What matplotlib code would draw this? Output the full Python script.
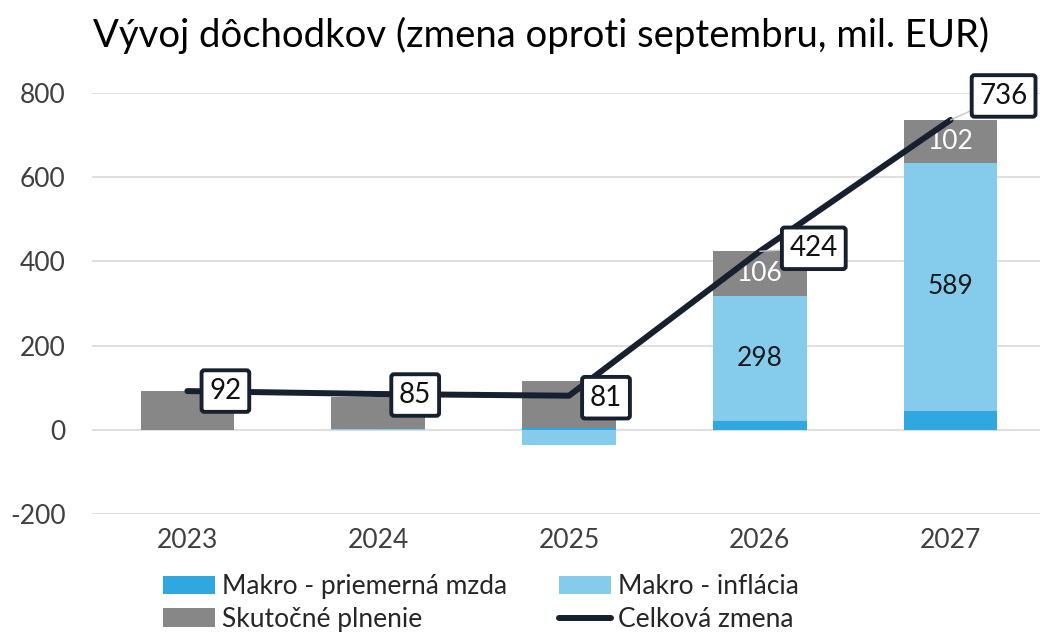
import numpy as np
import matplotlib.pyplot as plt

# data (mil. EUR, change vs September)
years = ['2023', '2024', '2025', '2026', '2027']
mzda = [0, 0, 5, 20, 45]            # Makro - priemerná mzda
inflacia = [0, 2, -37, 298, 589]    # Makro - inflácia
skutocne = [92, 76, 110, 106, 102]  # Skutočné plnenie
celkova = [92, 85, 81, 424, 736]    # Celková zmena
show_seg_labels = [False, False, False, True, True]

C_MZDA = '#2EA8DF'
C_INFL = '#85CCEC'
C_SKUT = '#878787'
C_LINE = '#16202F'

plt.rcParams['font.family'] = ['Lato', 'DejaVu Sans']
plt.rcParams['axes.unicode_minus'] = False

fig = plt.figure(figsize=(10.4, 6.35), dpi=100)
ax = fig.add_axes([92 / 1040, (635 - 514) / 635, 954 / 1040, 421 / 635])

x = np.arange(len(years))
w = 0.49

# stack positives up, negatives down
pos = np.zeros(len(years))
neg = np.zeros(len(years))
seg_pos = {}
for name, vals, col in [('Makro - priemerná mzda', mzda, C_MZDA),
                        ('Makro - inflácia', inflacia, C_INFL),
                        ('Skutočné plnenie', skutocne, C_SKUT)]:
    vals = np.array(vals, dtype=float)
    bottom = np.where(vals >= 0, pos, neg)
    ax.bar(x, vals, w, bottom=bottom, color=col, label=name, zorder=2)
    seg_pos[name] = bottom + vals / 2
    pos = np.where(vals >= 0, pos + vals, pos)
    neg = np.where(vals < 0, neg + vals, neg)

# labels inside segments
for i in range(len(years)):
    if not show_seg_labels[i]:
        continue
    ax.text(x[i], seg_pos['Makro - inflácia'][i], str(inflacia[i]), ha='center', va='center',
            fontsize=19, color='#1a1a1a', zorder=3)
    ax.text(x[i], seg_pos['Skutočné plnenie'][i], str(skutocne[i]), ha='center', va='center',
            fontsize=19, color='white', zorder=3)

# total line
ax.plot(x, celkova, color=C_LINE, lw=4.3, solid_capstyle='round', zorder=4, label='Celková zmena')

# boxed labels for the line
offsets = [(38, 0), (37, -1), (37, -2), (54, 3), (53, 24)]
for i, v in enumerate(celkova):
    dx, dy = offsets[i]
    arrow = None
    if i >= 3:
        arrow = dict(arrowstyle='-', color='#c8c8c8', lw=1, shrinkA=0, shrinkB=0)
    ax.annotate(str(v), (x[i], v), xytext=(dx, dy), textcoords='offset pixels',
                ha='center', va='center', fontsize=20, color='#111111', zorder=5,
                bbox=dict(boxstyle='round,pad=0.28,rounding_size=0.1', fc='white',
                          ec=C_LINE, lw=2.8),
                arrowprops=arrow)

ax.set_xlim(-0.5, 4.5)
ax.set_ylim(-200, 800)
ax.set_yticks(range(-200, 801, 200))
ax.set_xticks(x)
ax.set_xticklabels(years)
ax.tick_params(length=0, labelsize=19, colors='#404040', pad=10)
ax.tick_params(axis='y', pad=19)
ax.grid(axis='y', color='#d9d9d9', lw=1.2, zorder=0)
ax.set_axisbelow(True)
for s in ax.spines.values():
    s.set_visible(False)

fig.text(93 / 1040, 1 - 35 / 635, 'Vývoj dôchodkov (zmena oproti septembru, mil. EUR)',
         fontsize=27.5, ha='left', va='center', color='black')

h, l = ax.get_legend_handles_labels()
order = [l.index('Makro - priemerná mzda'), l.index('Skutočné plnenie'),
         l.index('Makro - inflácia'), l.index('Celková zmena')]
fig.legend([h[k] for k in order], [l[k] for k in order], ncol=2,
           loc='upper left', bbox_to_anchor=(163 / 1040, 1 - 574 / 635),
           frameon=False, fontsize=19, handlelength=1.97, handleheight=0.7,
           handletextpad=0.27, columnspacing=1.97, labelspacing=0.3,
           borderpad=0, borderaxespad=0, labelcolor='#262626')

fig.savefig('out.png', dpi=100)
